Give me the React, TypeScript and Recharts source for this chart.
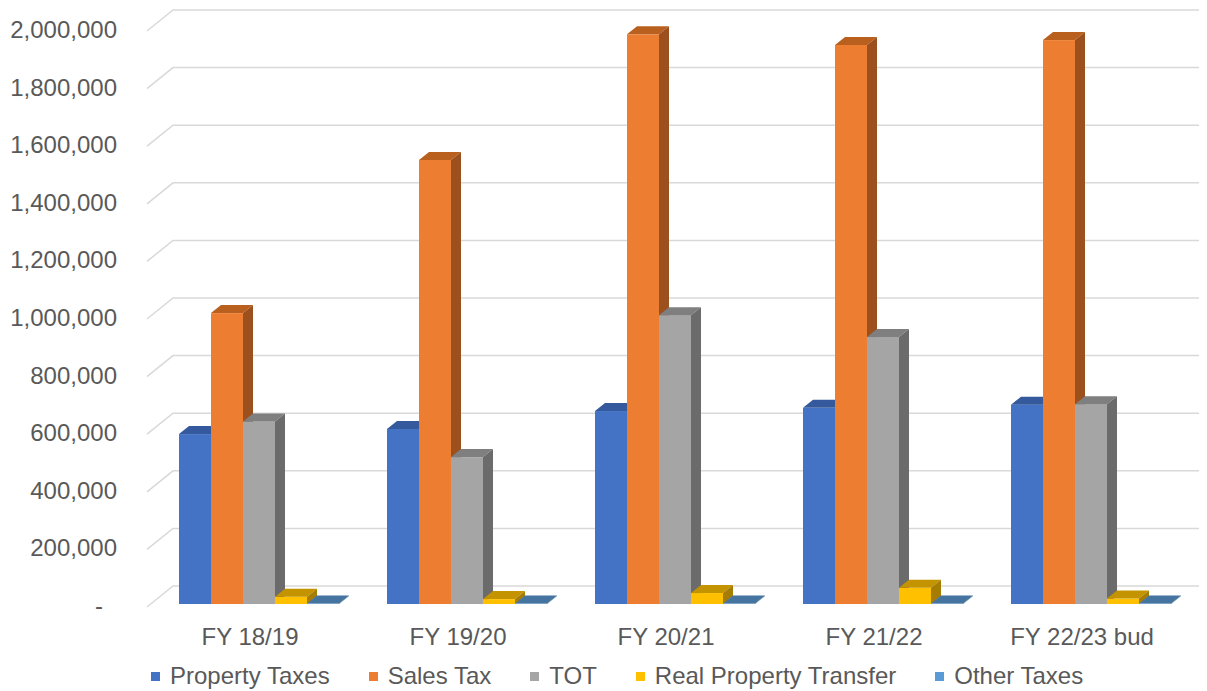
import React from 'react';
import { BarChart, Bar, XAxis, YAxis, CartesianGrid, Legend } from 'recharts';

// Tax revenue by fiscal year
const categories = ['FY 18/19', 'FY 19/20', 'FY 20/21', 'FY 21/22', 'FY 22/23 bud'];
const propertyTaxes = [590000, 608000, 670000, 681000, 692000];
const salesTax = [1010000, 1542000, 1978000, 1941000, 1958000];
const tot = [634000, 510000, 1003000, 927000, 694000];
const realPropertyTransfer = [25000, 17000, 38000, 56000, 19000];
const otherTaxes = [1500, 1500, 1500, 1500, 1500];
const yTicks = [0, 200000, 400000, 600000, 800000, 1000000, 1200000, 1400000, 1600000, 1800000, 2000000];
const seriesNames = ['Property Taxes', 'Sales Tax', 'TOT', 'Real Property Transfer', 'Other Taxes'];

const data = categories.map((name, i) => ({
  name,
  property: propertyTaxes[i],
  sales: salesTax[i],
  tot: tot[i],
  rpt: realPropertyTransfer[i],
  other: otherTaxes[i],
}));

const FONT = '"Liberation Sans", Arial, Helvetica, sans-serif';
const TEXT = '#595959';
const GRID = '#D9D9D9';
const CHART_W = 1199;
const CHART_H = 683;

// depth offset of the extruded columns
const DX = 10;
const DY = 8;

type Faces = { front: string; top: string; side: string };

const faces: Record<string, Faces> = {
  property: { front: '#4472C4', top: '#34599C', side: '#2C4C86' },
  sales: { front: '#ED7D31', top: '#B9601F', side: '#9B501D' },
  tot: { front: '#A5A5A5', top: '#7F7F7F', side: '#6B6B6B' },
  rpt: { front: '#FFC000', top: '#C49300', side: '#A67D00' },
  other: { front: '#5B9BD5', top: '#44749F', side: '#3A6389' },
};

const makeColumn = (f: Faces) => (props: any) => {
  const { x, y, width, height } = props;
  if (x == null || y == null) return <g />;
  const h = Math.max(0, height);
  const w = width;
  return (
    <g>
      <rect x={x} y={y} width={w} height={h} fill={f.front} />
      <polygon
        points={`${x},${y} ${x + DX},${y - DY} ${x + w + DX},${y - DY} ${x + w},${y}`}
        fill={f.top}
      />
      <polygon
        points={`${x + w},${y} ${x + w + DX},${y - DY} ${x + w + DX},${y + h - DY} ${x + w},${y + h}`}
        fill={f.side}
      />
    </g>
  );
};

// back-wall gridline with the slanted floor segment at its left end;
// the wall runs on to the right edge of the chart
const gridLine = (props: any) => {
  const { x1, y1 } = props;
  const d = `M${x1 - 8},${y1 + 3} L${x1 + 18},${y1 - 18} L${CHART_W},${y1 - 18}`;
  return <path key={`grid-${y1}`} d={d} stroke={GRID} strokeWidth={1.5} fill="none" />;
};

const fmt = (v: number) => (v === 0 ? '-' : v.toLocaleString('en-US'));

const YTick = (props: any) => {
  const { x, y, payload } = props;
  const v = payload.value as number;
  return (
    <text
      x={v === 0 ? x - 52 : x - 38}
      y={y}
      dy={10}
      textAnchor="end"
      fill={TEXT}
      fontSize={24}
      fontFamily={FONT}
    >
      {fmt(v)}
    </text>
  );
};

const XTick = (props: any) => {
  const { x, y, payload } = props;
  return (
    <text x={x - 9} y={y} dy={41} textAnchor="middle" fill={TEXT} fontSize={24} fontFamily={FONT}>
      {payload.value}
    </text>
  );
};

const LegendContent = (props: any) => {
  const items = [...(props.payload || [])].sort(
    (a: any, b: any) => seriesNames.indexOf(a.value) - seriesNames.indexOf(b.value)
  );
  return (
    <div
      style={{
        display: 'flex',
        alignItems: 'center',
        height: 30,
        paddingLeft: 143,
        fontFamily: FONT,
        fontSize: 24,
        color: TEXT,
        whiteSpace: 'nowrap',
      }}
    >
      {items.map((it: any) => (
        <div key={it.value} style={{ display: 'flex', alignItems: 'center', marginRight: 39 }}>
          <span
            style={{ display: 'inline-block', width: 9, height: 9, background: it.color, marginRight: 10 }}
          />
          <span>{it.value}</span>
        </div>
      ))}
    </div>
  );
};

export default function App() {
  return (
    <BarChart
      width={CHART_W}
      height={CHART_H}
      data={data}
      margin={{ top: 20, right: 12, left: 0, bottom: 0 }}
      barSize={32}
      barGap={0}
    >
      <CartesianGrid vertical={false} horizontal={gridLine} />
      <XAxis
        dataKey="name"
        axisLine={false}
        tickLine={false}
        tickSize={0}
        tickMargin={0}
        height={57}
        tick={<XTick />}
        interval={0}
      />
      <YAxis
        domain={[0, 2000000]}
        ticks={yTicks}
        axisLine={false}
        tickLine={false}
        tickSize={0}
        tickMargin={0}
        width={147}
        tick={<YTick />}
        interval={0}
      />
      <Legend
        verticalAlign="bottom"
        content={<LegendContent />}
        wrapperStyle={{ left: 0, width: CHART_W }}
      />
      <Bar dataKey="property" name={seriesNames[0]} fill="#4472C4" shape={makeColumn(faces.property)} isAnimationActive={false} />
      <Bar dataKey="sales" name={seriesNames[1]} fill="#ED7D31" shape={makeColumn(faces.sales)} isAnimationActive={false} />
      <Bar dataKey="tot" name={seriesNames[2]} fill="#A5A5A5" shape={makeColumn(faces.tot)} isAnimationActive={false} />
      <Bar dataKey="rpt" name={seriesNames[3]} fill="#FFC000" shape={makeColumn(faces.rpt)} isAnimationActive={false} />
      <Bar dataKey="other" name={seriesNames[4]} fill="#5B9BD5" shape={makeColumn(faces.other)} isAnimationActive={false} />
    </BarChart>
  );
}
